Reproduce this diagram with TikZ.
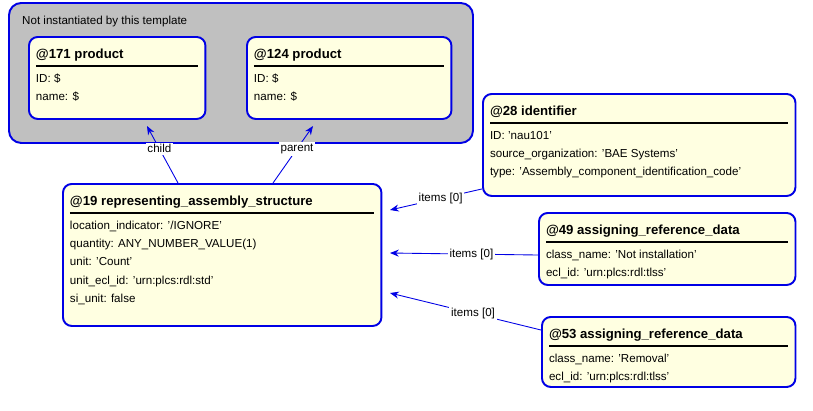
\documentclass[tikz,border=0pt]{standalone}
\usepackage{fontspec}
\setmainfont{Liberation Sans}
\usetikzlibrary{arrows.meta}
\definecolor{paper}{RGB}{255,255,225}
\definecolor{shade}{RGB}{192,192,192}
\newcommand{\ent}[6]{%
	\node[box,anchor=north west] (#1) at (#2) {\parbox[t][\dimexpr0.02cm*#4-8pt\relax][t]{\dimexpr0.02cm*#3-10pt\relax}{%
		\vspace{3pt}{\fontsize{7.5}{9}\bfseries #5}\\[-6pt]\rule{\linewidth}{0.7pt}\\[-1.5pt]#6}};}
\begin{document}
\begin{tikzpicture}[x=0.02cm,y=-0.02cm,
	box/.style={draw=blue!90!black,line width=1.1pt,fill=paper,rounded corners=5pt,inner sep=4pt,
		font=\fontsize{6.6}{10.4}\selectfont},
	lnk/.style={draw=blue!90!black,line width=0.5pt,-{Stealth[length=5pt,width=4pt]}},
	tag/.style={fill=white,text=black,inner sep=1pt,font=\fontsize{6.6}{8}\selectfont}]
	\useasboundingbox (0,0) rectangle (813,410);
	\node[draw=blue!90!black,line width=1.1pt,fill=shade,rounded corners=7pt,minimum width=464*0.02cm,
		minimum height=140*0.02cm,anchor=north west] (grey) at (8,2) {};
	\node[anchor=west,font=\fontsize{6.6}{8}\selectfont] at (16,21) {Not instantiated by this template};
	\ent{p171}{28,36}{180}{82}{@171 product}{ID: \$\\name: \$}
	\ent{p124}{246,36}{208}{82}{@124 product}{ID: \$\\name: \$}
	\ent{r19}{62,183}{322}{142}{@19 representing\_assembly\_structure}{location\_indicator: '/IGNORE'\\quantity: ANY\_NUMBER\_VALUE(1)\\unit: 'Count'\\unit\_ecl\_id: 'urn:plcs:rdl:std'\\si\_unit: false}
	\ent{i28}{482,93}{316}{102}{@28 identifier}{ID: 'nau101'\\source\_organization: 'BAE Systems'\\type: 'Assembly\_component\_identification\_code'}
	\ent{a49}{538,212}{260}{72}{@49 assigning\_reference\_data}{class\_name: 'Not installation'\\ecl\_id: 'urn:plcs:rdl:tlss'}
	\ent{a53}{541,316}{257}{70}{@53 assigning\_reference\_data}{class\_name: 'Removal'\\ecl\_id: 'urn:plcs:rdl:tlss'}
	\coordinate (c1) at (178,183);
	\coordinate (c2) at (147,126);
	\coordinate (c3) at (273,183);
	\coordinate (c4) at (313,126);
	\draw[lnk] (c1) -- node[tag,pos=0.6] {child} (c2);
	\draw[lnk] (c3) -- node[tag,pos=0.6] {parent} (c4);
	\draw[lnk] (i28.south west) ++(0,-8) coordinate (s1) -- node[tag,pos=0.45] {items [0]} (390,210);
	\draw[lnk] (538,255) -- node[tag,pos=0.45] {items [0]} (390,253);
	\draw[lnk] (541,330) -- node[tag,pos=0.45] {items [0]} (390,293);
\end{tikzpicture}
\end{document}
